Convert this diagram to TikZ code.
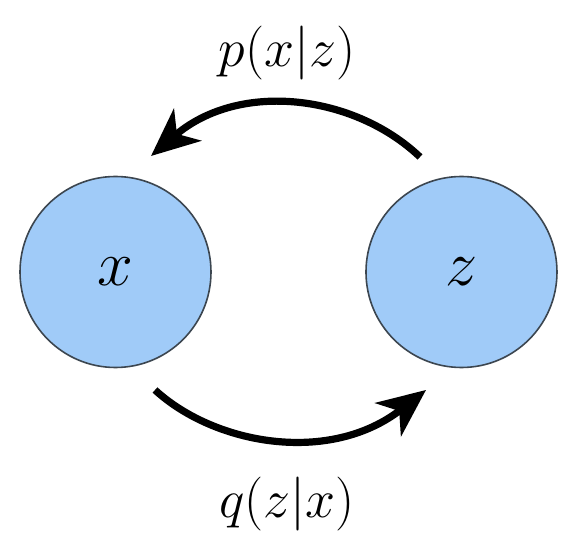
\documentclass[tikz,border=0pt]{standalone}
\usetikzlibrary{arrows.meta}
\definecolor{nodeblue}{RGB}{160,203,248}
\definecolor{edgegray}{RGB}{60,70,80}
\newcommand{\bigletter}[1]{\scalebox{1.55}{\fontsize{20}{24}\selectfont$#1$}}
\newcommand{\biglabel}[1]{\scalebox{1.3}{\fontsize{20}{24}\selectfont$#1$}}
\begin{document}
\begin{tikzpicture}[x=0.5pt,y=-0.5pt,
  varnode/.style={circle,draw=edgegray,line width=0.8pt,fill=nodeblue,minimum size=95.5pt,inner sep=0pt},
  labeltext/.style={inner sep=0pt},
  bigarrow/.style={line width=3.6pt,-{Stealth[length=24pt,width=21pt,inset=7pt]}}]
\useasboundingbox (0,0) rectangle (570,540);
\node[varnode] (x) at (115.5,272) {\bigletter{x}};
\node[varnode] (z) at (461.5,272) {\bigletter{z}};
\node[labeltext] (p) at (287,53) {\biglabel{p(x|z)}};
\node[labeltext] (q) at (287,504) {\biglabel{q(z|x)}};
\coordinate (topstart) at (420,157);
\coordinate (topend) at (151,156);
\coordinate (botstart) at (155,390);
\coordinate (botend) at (426,390);
\draw[bigarrow] (topstart) .. controls (355,95) and (240,80) .. (topend);
\draw[bigarrow] (botstart) .. controls (215,445) and (330,465) .. (botend);
\end{tikzpicture}
\end{document}
